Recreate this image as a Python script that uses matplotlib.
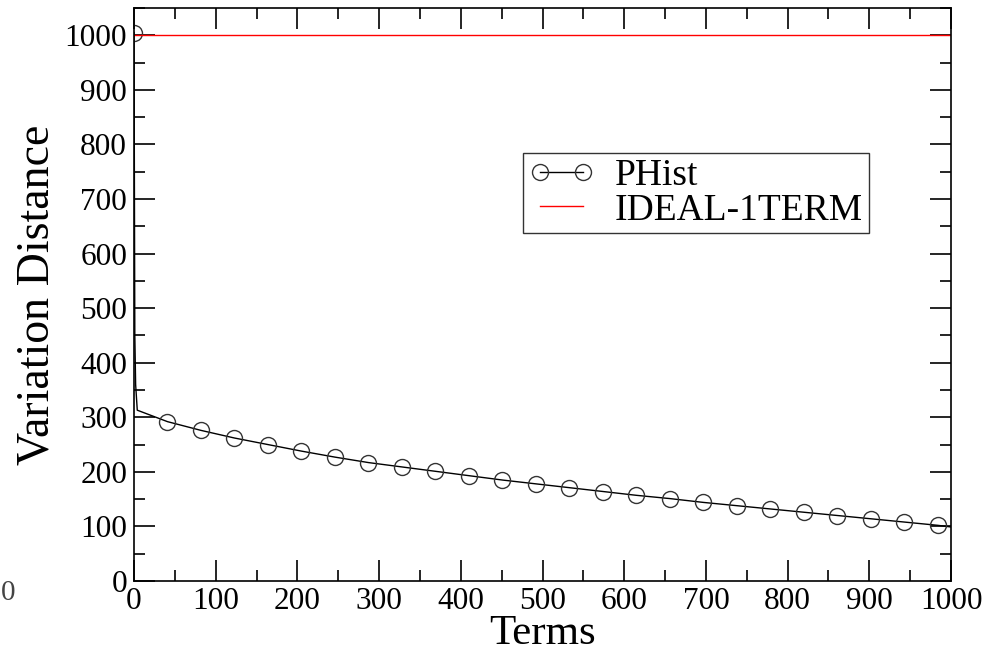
import matplotlib
matplotlib.use("Agg")
import matplotlib.pyplot as plt
from matplotlib.ticker import MultipleLocator

# PHist curve
terms = [0, 1, 2, 4, 41, 82, 123, 164, 205, 246, 287, 328, 369, 410, 451, 492,
         533, 574, 615, 656, 697, 738, 779, 820, 861, 902, 943, 984, 1000]
phist = [1005, 450, 360, 313, 292, 276, 262, 250, 238, 227, 217, 209, 201, 193, 185, 178,
         171, 164, 157, 151, 144, 138, 132, 126, 120, 114, 108, 102, 99]
marker_idx = [0] + list(range(4, 28))

ideal_x = [0, 1000]
ideal_y = [1000, 1000]

plt.rcParams['font.family'] = ['Liberation Serif', 'DejaVu Serif']

fig = plt.figure(figsize=(9.92, 6.54), dpi=100)
ax = fig.add_axes([134 / 992, 1 - 581 / 654, (951 - 134) / 992, (581 - 8) / 654])

ax.plot(terms, phist, color='black', linewidth=1.0, marker='o', markersize=11.5,
        markerfacecolor='none', markeredgecolor='#333333', markeredgewidth=1.0,
        markevery=marker_idx, label='PHist')
ax.plot(ideal_x, ideal_y, color='red', linewidth=1.0, label='IDEAL-1TERM')

ax.set_xlim(0, 1000)
ax.set_ylim(0, 1050)
ax.xaxis.set_major_locator(MultipleLocator(100))
ax.xaxis.set_minor_locator(MultipleLocator(50))
ax.yaxis.set_minor_locator(MultipleLocator(50))
ax.set_yticks(range(0, 1001, 100))
ax.tick_params(which='both', direction='in', top=True, right=True, labelsize=22.5, width=1.2)
ax.tick_params(which='major', length=15)
ax.tick_params(which='minor', length=8)
ax.tick_params(axis='x', which='major', pad=4)
ax.tick_params(axis='y', which='major', pad=5)
for s in ax.spines.values():
    s.set_linewidth(1.2)

ax.set_xlabel('Terms', fontsize=31, labelpad=-1)
ax.set_ylabel('Variation Distance', fontsize=33, labelpad=4)

leg = ax.legend(loc='upper left', bbox_to_anchor=(0.476, 0.747), fontsize=27,
                numpoints=2, handlelength=1.75, frameon=True, fancybox=False,
                borderpad=0.15, labelspacing=0.0, handletextpad=0.55, borderaxespad=0)
leg.get_frame().set_edgecolor('black')
leg.get_frame().set_linewidth(1.0)

fig.text(0.001, 1 - 593 / 654, '0', fontsize=21, color='#444444', va='center')

fig.savefig('out.png', dpi=100)
